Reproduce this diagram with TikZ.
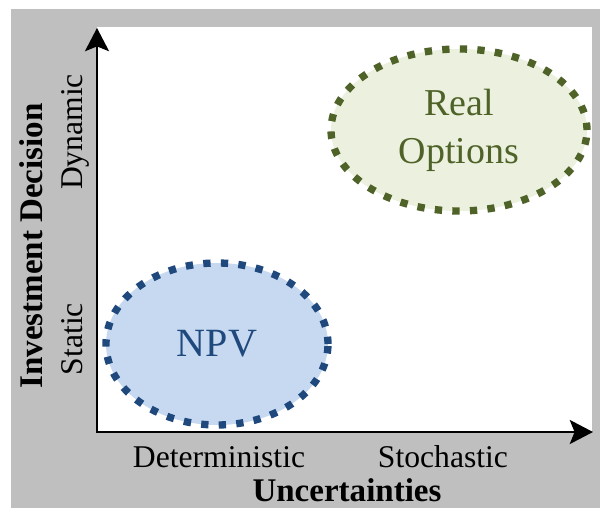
\documentclass[tikz,border=0pt]{standalone}
\usepackage{fontspec}
\setmainfont{Liberation Serif}
\usetikzlibrary{shapes.geometric,arrows.meta}

\definecolor{panelgray}{RGB}{191,191,191}
\definecolor{npvblue}{RGB}{31,73,125}
\definecolor{npvfill}{RGB}{198,217,241}
\definecolor{optgreen}{RGB}{79,98,40}
\definecolor{optfill}{RGB}{235,241,222}

\tikzset{
	axis/.style={line width=1.8pt, {Stealth[length=0.58cm,width=0.6cm,inset=0.12cm]}-{Stealth[length=0.58cm,width=0.6cm,inset=0.12cm]}},
	blob/.style={shape=ellipse, inner sep=0pt, line width=5.2pt, dash pattern=on 5.2pt off 7.3pt, align=center},
	ticklabel/.style={font=\fontsize{22.5}{27}\selectfont, anchor=base},
	axislabel/.style={font=\fontsize{23.5}{28}\selectfont\bfseries, anchor=base},
}

\begin{document}
\begin{tikzpicture}
	\useasboundingbox (0,0) rectangle (15,12.7);
	\fill[panelgray] (0.275,0) rectangle (15,12.475);
	\fill[white] (2.425,1.9) rectangle (14.8,12.025);

	\coordinate (O) at (2.425,1.9);
	\coordinate (X) at (14.825,1.9);
	\coordinate (Y) at (2.425,12.0);
	\draw[axis] (Y) -- (O) -- (X);

	\node[blob, draw=npvblue, fill=npvfill, text=npvblue, minimum width=5.55cm, minimum height=4.05cm, font=\fontsize{28.5}{34}\selectfont] (npv) at (5.425,4.1) {NPV};
	\node[blob, draw=optgreen, fill=optfill, text=optgreen, minimum width=6.4cm, minimum height=4.05cm, font=\fontsize{27}{34}\selectfont] (ro) at (11.475,9.45) {Real\\Options};

	\node[ticklabel] (det) at (5.475,1.0) {Deterministic};
	\node[ticklabel] (sto) at (11.075,1.0) {Stochastic};
	\node[axislabel] (unc) at (8.675,0.16) {Uncertainties};

	\node[ticklabel, rotate=90] (sta) at (2.05,4.225) {Static};
	\node[ticklabel, rotate=90] (dyn) at (2.05,9.4) {Dynamic};
	\node[axislabel, rotate=90] (inv) at (1.05,6.55) {Investment Decision};
\end{tikzpicture}
\end{document}
